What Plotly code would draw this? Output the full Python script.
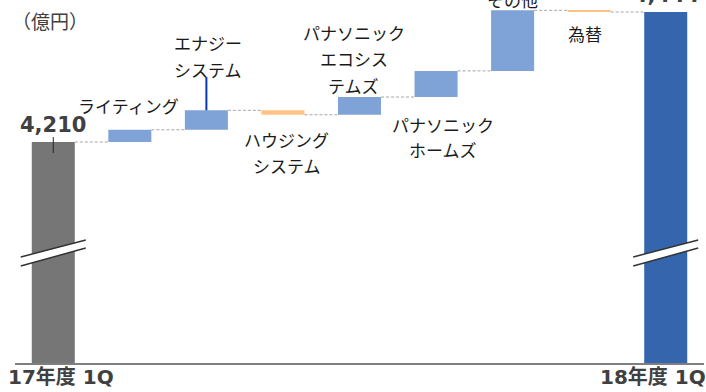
import plotly.graph_objects as go

# ---------------- data ----------------
categories = ["17年度 1Q", "ライティング", "エナジーシステム", "ハウジングシステム",
              "パナソニックエコシステムズ", "パナソニックホームズ", "その他", "為替", "18年度 1Q"]
start_value = 4210
end_value = 4444
deltas = [22, 35, -8, 32, 47, 109, -3]   # 億円
label_lines = [
    None,
    ["ライティング"],
    ["エナジー", "システム"],
    ["ハウジング", "システム"],
    ["パナソニック", "エコシス", "テムズ"],
    ["パナソニック", "ホームズ"],
    ["その他"],
    ["為替"],
    None,
]
total_labels = ["4,210", "4,444"]
unit_label = "（億円）"

# ---------------- geometry / style ----------------
W, H = 706, 392
ML, MR, MT, MB = 15, 2, 0, 29
PH = H - MT - MB
Y_LO, Y_HI = 3812.2, 4465.6
BARGAP = 0.438
HALF = (1 - BARGAP) / 2

C_GRAY = "#767676"
C_INC = "#7FA3D7"
C_DEC = "#FFC285"
C_END = "#3566AD"

n = len(categories)
xs = list(range(n))

# cumulative bases
bases, heights, colors = [0], [start_value], [C_GRAY]
level = start_value
levels = [start_value]
for d in deltas:
    bases.append(level)
    heights.append(d)
    colors.append(C_INC if d >= 0 else C_DEC)
    level += d
    levels.append(level)
bases.append(0)
heights.append(end_value)
colors.append(C_END)

fig = go.Figure(go.Bar(x=xs, y=heights, base=bases, marker=dict(color=colors, line=dict(width=0)),
                       hoverinfo="skip"))

def ypx(px):
    """pixel (from top of page) -> data y"""
    return Y_HI - (px - MT) * (Y_HI - Y_LO) / PH

def py(px):
    """pixel -> paper y"""
    return (H - MB - px) / PH

shapes = []
# connectors
for i in range(n - 1):
    lv = levels[i] if i < len(levels) else end_value
    shapes.append(dict(type="line", xref="x", yref="y", x0=i + HALF, x1=i + 1 - HALF,
                       y0=lv, y1=lv, line=dict(color="#A6A6A6", width=1, dash="3px,2px")))

# leader lines
top_energy = bases[2] + heights[2]
shapes.append(dict(type="line", xref="x", yref="y", x0=2, x1=2, y0=top_energy, y1=ypx(77),
                   line=dict(color="#0A36B0", width=2)))
shapes.append(dict(type="line", xref="x", yref="y", x0=0, x1=0, y0=ypx(137), y1=ypx(153),
                   line=dict(color="#262626", width=1)))

# axis-break marks on the two total bars
BW = 0.4245
for i in (0, n - 1):
    yl1, yr1 = ypx(257), ypx(240)
    yl2, yr2 = ypx(266), ypx(248)
    shapes.append(dict(type="path", xref="x", yref="y",
                       path=f"M {i-BW},{yl1} L {i+BW},{yr1} L {i+BW},{yr2} L {i-BW},{yl2} Z",
                       fillcolor="white", line=dict(width=0)))
    for (a, b) in ((yl1, yr1), (yl2, yr2)):
        shapes.append(dict(type="line", xref="x", yref="y", x0=i - BW, x1=i + BW, y0=a, y1=b,
                           line=dict(color="#333333", width=1.5)))

annotations = []
JP = "Noto Sans CJK JP"
BOLD = "DejaVu Sans, Noto Sans CJK JP"

# category labels (positions in px)
label_pos = {
    1: (-1, [105]),
    2: (1.5, [43, 69]),
    3: (4, [139, 166]),
    4: (-6, [32, 59, 86]),
    5: (7, [124, 150]),
    6: (0, [-1]),
    7: (-4, [33]),
}
for i, lines in enumerate(label_lines):
    if not lines:
        continue
    dx, ys = label_pos[i]
    for txt, yy in zip(lines, ys):
        annotations.append(dict(x=i, xref="x", xshift=dx, y=py(yy), yref="paper", text=txt,
                                showarrow=False, xanchor="center", yanchor="middle",
                                font=dict(family=JP, size=17, color="#1A1A1A")))

# totals
for i, txt, yy in ((0, total_labels[0], 125), (n - 1, total_labels[1], -5)):
    annotations.append(dict(x=i, xref="x", y=py(yy), yref="paper", text=f"<b>{txt}</b>",
                            showarrow=False, xanchor="center", yanchor="middle",
                            font=dict(family=BOLD, size=21, color="#404040")))

# x labels
for i, dx in ((0, 8), (n - 1, -13)):
    annotations.append(dict(x=i, xref="x", xshift=dx, y=py(377), yref="paper",
                            text=f"<b>{categories[i]}</b>", showarrow=False,
                            xanchor="center", yanchor="middle",
                            font=dict(family=BOLD, size=20, color="#404040")))

annotations.append(dict(x=(50 - ML) / (W - ML - MR), xref="paper", y=py(20), yref="paper",
                        text=unit_label, showarrow=False, xanchor="center", yanchor="middle",
                        font=dict(family=JP, size=19, color="#404040")))

fig.update_layout(
    width=W, height=H,
    margin=dict(l=ML, r=MR, t=MT, b=MB),
    plot_bgcolor="white", paper_bgcolor="white",
    bargap=BARGAP, showlegend=False,
    shapes=shapes, annotations=annotations,
    xaxis=dict(range=[-0.5, n - 0.5], showline=True, linecolor="#7F7F7F", linewidth=1.5,
               showticklabels=False, ticks="", showgrid=False, zeroline=False),
    yaxis=dict(range=[Y_LO, Y_HI], visible=False, showgrid=False),
)

fig.write_html("out.html")
